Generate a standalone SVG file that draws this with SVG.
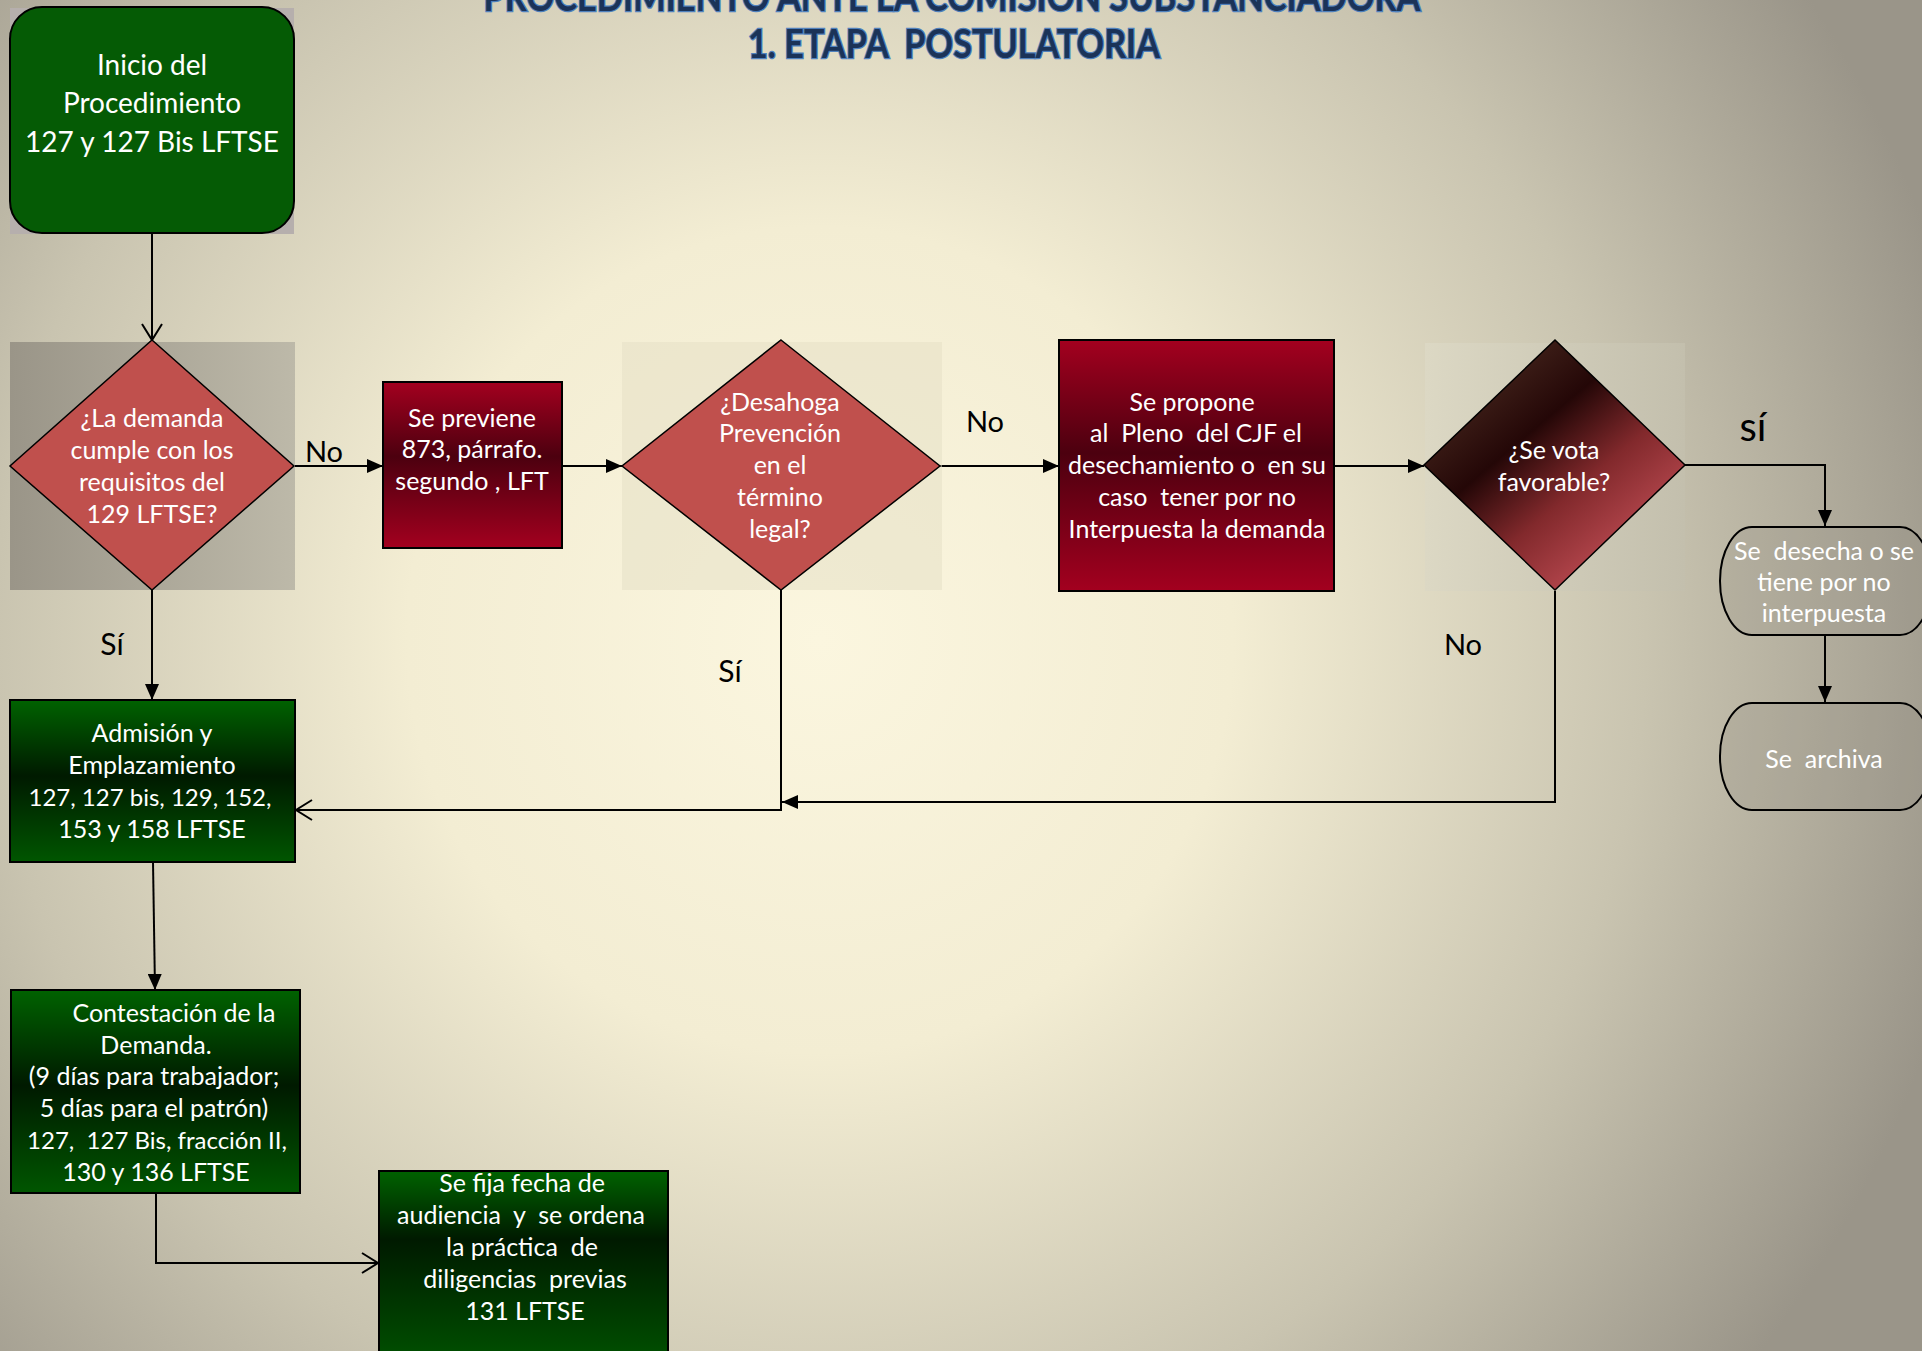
<svg xmlns="http://www.w3.org/2000/svg" width="1922" height="1351" viewBox="0 0 1922 1351">
<defs>
<radialGradient id="bg" cx="820" cy="640" r="1180" gradientUnits="userSpaceOnUse">
<stop offset="0" stop-color="#fbf6df"/>
<stop offset="0.35" stop-color="#f3edd3"/>
<stop offset="0.7" stop-color="#c9c4b0"/>
<stop offset="1" stop-color="#9a9589"/>
</radialGradient>
<linearGradient id="sq1" x1="0" y1="0" x2="1" y2="0">
<stop offset="0" stop-color="#9a9588"/>
<stop offset="1" stop-color="#bdb9a9"/>
</linearGradient>
<linearGradient id="sq3" x1="0" y1="0" x2="1" y2="0">
<stop offset="0" stop-color="#dcd8c4"/>
<stop offset="1" stop-color="#c3bfad"/>
</linearGradient>
<linearGradient id="red" x1="0" y1="0" x2="0" y2="1">
<stop offset="0" stop-color="#a3001f"/>
<stop offset="0.45" stop-color="#4c000f"/>
<stop offset="1" stop-color="#a3001f"/>
</linearGradient>
<linearGradient id="green" x1="0" y1="0" x2="0" y2="1">
<stop offset="0" stop-color="#006200"/>
<stop offset="0.47" stop-color="#001a00"/>
<stop offset="1" stop-color="#005600"/>
</linearGradient>
<linearGradient id="green2" x1="0" y1="0" x2="0" y2="1">
<stop offset="0" stop-color="#006200"/>
<stop offset="0.36" stop-color="#001a00"/>
<stop offset="1" stop-color="#005000"/>
</linearGradient>
<linearGradient id="dark" x1="0.15" y1="0.1" x2="0.85" y2="0.9">
<stop offset="0" stop-color="#4a2a20"/>
<stop offset="0.35" stop-color="#240707"/>
<stop offset="0.62" stop-color="#82292c"/>
<stop offset="1" stop-color="#c8525a"/>
</linearGradient>
<marker id="fa" markerUnits="userSpaceOnUse" viewBox="0 0 16 14" markerWidth="16" markerHeight="14" refX="16" refY="7" orient="auto">
<path d="M0,0 L16,7 L0,14 z" fill="#000"/>
</marker>
<marker id="oa" markerUnits="userSpaceOnUse" viewBox="0 0 20 24" markerWidth="20" markerHeight="24" refX="18" refY="12" orient="auto">
<path d="M2,2 L18,12 L2,22" fill="none" stroke="#000" stroke-width="2"/>
</marker>
</defs>
<style>
.t{font-family:Lato,"Open Sans","Liberation Sans",sans-serif;fill:#fff;font-size:25px;text-anchor:middle;white-space:pre}
.lb{font-family:Lato,"Open Sans","Liberation Sans",sans-serif;fill:#000;font-size:29px;text-anchor:middle}
.ti{font-family:Lato,"Open Sans","Liberation Sans",sans-serif;font-weight:bold;font-size:40px;fill:#1b3358;stroke:#4f81bd;stroke-width:2.5px;paint-order:stroke;text-anchor:middle;white-space:pre}
.c{fill:none;stroke:#000;stroke-width:2}
.bx{stroke:#000;stroke-width:2}
.dm{stroke:#000;stroke-width:1.5}
.term{fill:#8e897c;fill-opacity:0.2;stroke:#000;stroke-width:2}
</style>
<rect width="1922" height="1351" fill="url(#bg)"/>
<g id="title">
<text class="ti" x="952" y="11" textLength="937" lengthAdjust="spacingAndGlyphs">PROCEDIMIENTO ANTE LA COMISIÓN SUBSTANCIADORA</text>
<text class="ti" x="954" y="58" textLength="412" lengthAdjust="spacingAndGlyphs">1. ETAPA  POSTULATORIA</text>
</g>
<g id="connectors">
<path class="c" d="M152,234 V340" marker-end="url(#oa)"/>
<path class="c" d="M294,466 H383" marker-end="url(#fa)"/>
<path class="c" d="M562,466 H622" marker-end="url(#fa)"/>
<path class="c" d="M940,466 H1059" marker-end="url(#fa)"/>
<path class="c" d="M1334,466 H1424" marker-end="url(#fa)"/>
<path class="c" d="M1685,465 H1825 V526" marker-end="url(#fa)"/>
<path class="c" d="M1825,635 V702" marker-end="url(#fa)"/>
<path class="c" d="M1555,590 V802 H782" marker-end="url(#fa)"/>
<path class="c" d="M781,590 V810 H296" marker-end="url(#oa)"/>
<path class="c" d="M152,590 V700" marker-end="url(#fa)"/>
<path class="c" d="M153,862 L155,990" marker-end="url(#fa)"/>
<path class="c" d="M156,1193 V1263 H378" marker-end="url(#oa)"/>
<text class="lb" x="324" y="462">No</text>
<text class="lb" x="985" y="432">No</text>
<text class="lb" x="1463" y="655">No</text>
<text class="lb" x="112" y="655" style="font-size:30px">Sí</text>
<text class="lb" x="730" y="682" style="font-size:30px">Sí</text>
<text class="lb" x="1753" y="441" style="font-size:40px">sí</text>
</g>
<g id="inicio">
<rect x="10" y="8" width="284" height="226" fill="#b6afad"/>
<rect class="bx" x="10" y="7" width="284" height="226" rx="32" fill="#055b05"/>
<text class="t" style="font-size:28px" x="152" y="75">Inicio del</text>
<text class="t" style="font-size:28px" x="152" y="113">Procedimiento</text>
<text class="t" style="font-size:28px" x="152" y="152">127 y 127 Bis LFTSE</text>
</g>
<g id="d1">
<rect x="10" y="342" width="285" height="248" fill="url(#sq1)"/>
<polygon class="dm" points="152,340 294,466 152,590 10,466" fill="#c0504d"/>
<text class="t" x="152" y="427">¿La demanda</text>
<text class="t" x="152" y="459">cumple con los</text>
<text class="t" x="152" y="491">requisitos del</text>
<text class="t" x="152" y="523">129 LFTSE?</text>
</g>
<g id="previene">
<rect class="bx" x="383" y="382" width="179" height="166" fill="url(#red)"/>
<text class="t" x="472" y="427">Se previene</text>
<text class="t" x="472" y="458">873, párrafo.</text>
<text class="t" x="472" y="490">segundo , LFT</text>
</g>
<g id="d2">
<rect x="622" y="342" width="320" height="248" fill="#e6e0c6" fill-opacity="0.55"/>
<polygon class="dm" points="781,340 940,466 781,590 622,466" fill="#c0504d"/>
<text class="t" x="780" y="411">¿Desahoga</text>
<text class="t" x="780" y="442">Prevención</text>
<text class="t" x="780" y="474">en el</text>
<text class="t" x="780" y="506">término</text>
<text class="t" x="780" y="538">legal?</text>
</g>
<g id="propone">
<rect class="bx" x="1059" y="340" width="275" height="251" fill="url(#red)"/>
<text class="t" x="1192" y="411">Se propone</text>
<text class="t" x="1196" y="442">al  Pleno  del CJF el</text>
<text class="t" x="1197" y="474">desechamiento o  en su</text>
<text class="t" x="1197" y="506">caso  tener por no</text>
<text class="t" x="1197" y="538">Interpuesta la demanda</text>
</g>
<g id="d3">
<rect x="1425" y="343" width="260" height="248" fill="url(#sq3)"/>
<polygon class="dm" points="1555,340 1685,465 1555,590 1424,465" fill="url(#dark)"/>
<text class="t" x="1554" y="459">¿Se vota</text>
<text class="t" x="1554" y="491">favorable?</text>
</g>
<g id="desecha">
<rect class="term" x="1720" y="527" width="212" height="108" rx="32" ry="54"/>
<text class="t" x="1824" y="560">Se  desecha o se</text>
<text class="t" x="1824" y="591">tiene por no</text>
<text class="t" x="1824" y="622">interpuesta</text>
</g>
<g id="archiva">
<rect class="term" x="1720" y="703" width="212" height="107" rx="32" ry="53"/>
<text class="t" x="1824" y="768">Se  archiva</text>
</g>
<g id="admision">
<rect class="bx" x="10" y="700" width="285" height="162" fill="url(#green)"/>
<text class="t" x="152" y="742">Admisión y</text>
<text class="t" x="152" y="774">Emplazamiento</text>
<text class="t" x="150" y="806" style="font-size:24px">127, 127 bis, 129, 152,</text>
<text class="t" x="152" y="838">153 y 158 LFTSE</text>
</g>
<g id="contestacion">
<rect class="bx" x="11" y="990" width="289" height="203" fill="url(#green)"/>
<text class="t" x="174" y="1022">Contestación de la</text>
<text class="t" x="156" y="1054">Demanda.</text>
<text class="t" x="154" y="1085">(9 días para trabajador;</text>
<text class="t" x="154" y="1117">5 días para el patrón)</text>
<text class="t" x="157" y="1149" style="font-size:24px">127,  127 Bis, fracción II,</text>
<text class="t" x="156" y="1181">130 y 136 LFTSE</text>
</g>
<g id="fija">
<rect class="bx" x="379" y="1171" width="289" height="190" fill="url(#green2)"/>
<text class="t" x="522" y="1192">Se fija fecha de</text>
<text class="t" x="521" y="1224">audiencia  y  se ordena</text>
<text class="t" x="522" y="1256">la práctica  de</text>
<text class="t" x="525" y="1288">diligencias  previas</text>
<text class="t" x="525" y="1320">131 LFTSE</text>
</g>
</svg>
